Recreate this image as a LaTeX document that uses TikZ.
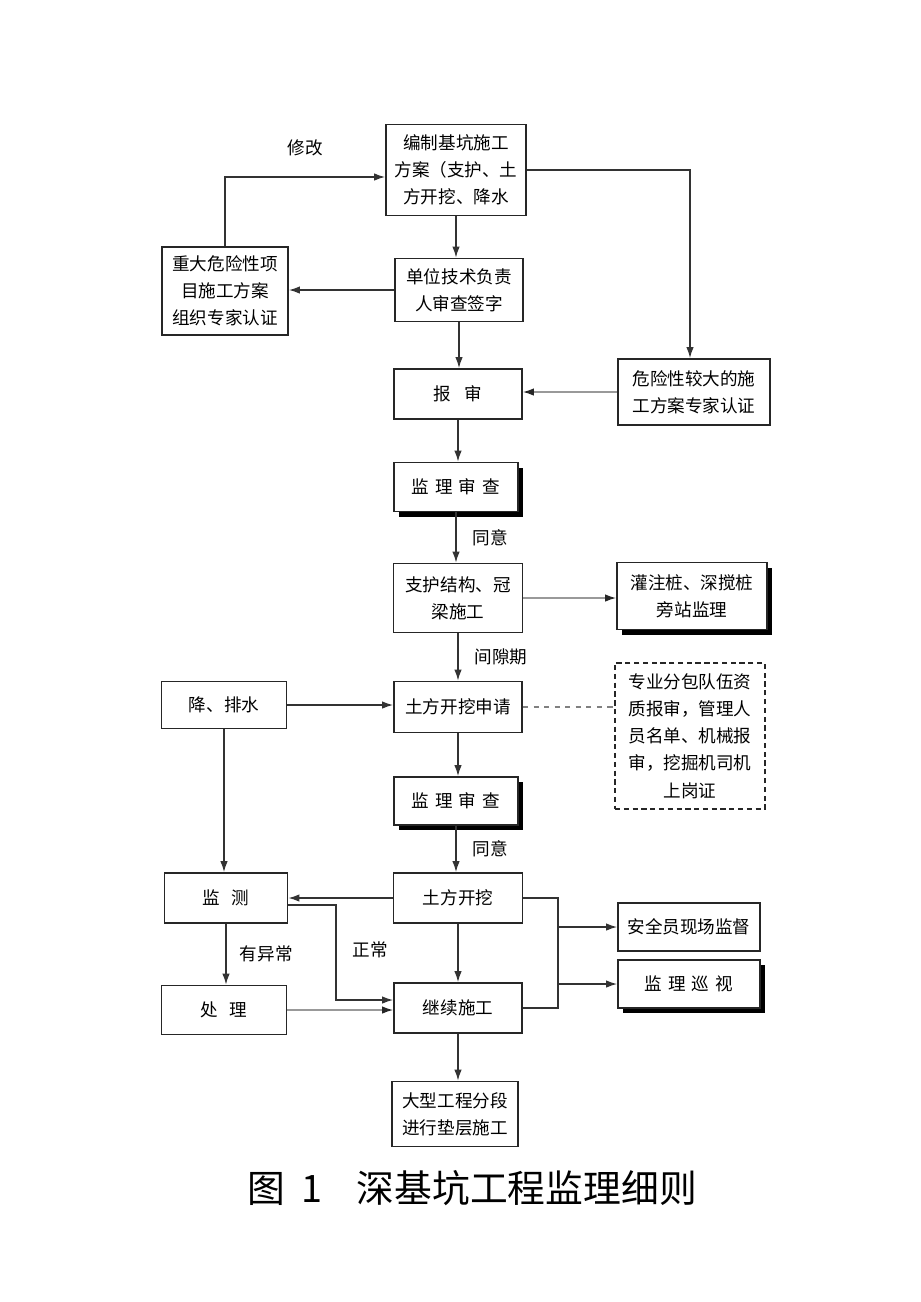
\documentclass[tikz,border=0pt]{standalone}
\usepackage{fontspec}
\setmainfont{Noto Sans CJK SC}
\usepackage{tikz}
\usetikzlibrary{arrows.meta,shadows}

\begin{document}
\begin{tikzpicture}[x=0.02cm,y=-0.02cm,
	box/.style={draw=black!85,line width=1.1pt,align=center,inner sep=1pt,
		font=\fontsize{10pt}{15.5pt}\selectfont},
	shadowbox/.style={box,fill=white,drop shadow={shadow xshift=0.1cm,shadow yshift=-0.1cm,fill=black,opacity=1}},
	dashbox/.style={box,dashed,dash pattern=on 3pt off 2pt,line width=0.9pt},
	flow/.style={draw=black!80,line width=0.7pt,-{Latex[length=2.2mm,width=1.5mm]}},
	faint/.style={draw=black!40,line width=0.7pt,-{Latex[length=2.2mm,width=1.5mm,color=black!85]}},
	lbl/.style={font=\fontsize{10pt}{12pt}\selectfont}]
	\fill[white] (0,0) rectangle (920,1302);
	\useasboundingbox (0,0) rectangle (920,1302);

	\node[box,minimum width=2.8cm,minimum height=1.82cm] (plan) at (456,170) {编制基坑施工\\方案（支护、土\\方开挖、降水};
	\node[box,minimum width=2.52cm,minimum height=1.76cm] (expert) at (225,291) {重大危险性项\\目施工方案\\组织专家认证};
	\node[box,minimum width=2.56cm,minimum height=1.26cm] (sign) at (459,290) {单位技术负责\\人审查签字};
	\node[box,minimum width=2.56cm,minimum height=1.0cm] (submit) at (458,394) {报\hspace{2.6mm}审};
	\node[box,minimum width=3.04cm,minimum height=1.32cm] (danger) at (694,392) {危险性较大的施\\工方案专家认证};
	\node[shadowbox,minimum width=2.48cm,minimum height=0.98cm] (review) at (456,487) {监\hspace{1.2mm}理\hspace{1.2mm}审\hspace{1.2mm}查};
	\node[box,minimum width=2.58cm,minimum height=1.38cm] (support) at (458,598) {支护结构、冠\\梁施工};
	\node[shadowbox,minimum width=3.0cm,minimum height=1.34cm] (pile) at (692,596) {灌注桩、深搅桩\\旁站监理};
	\node[box,minimum width=2.56cm,minimum height=1.02cm] (apply) at (458,707) {土方开挖申请};
	\node[dashbox,minimum width=3.0cm,minimum height=2.92cm] (qualify) at (690,736) {专业分包队伍资\\质报审，管理人\\员名单、机械报\\审，挖掘机司机\\上岗证};
	\node[shadowbox,minimum width=2.48cm,minimum height=0.96cm] (reviewb) at (456,801) {监\hspace{1.2mm}理\hspace{1.2mm}审\hspace{1.2mm}查};
	\node[box,minimum width=2.5cm,minimum height=0.94cm] (drain) at (224,705) {降、排水};
	\node[box,minimum width=2.46cm,minimum height=1.0cm] (monitor) at (226,898) {监\hspace{2.2mm}测};
	\node[box,minimum width=2.5cm,minimum height=0.98cm] (handle) at (224,1010) {处\hspace{2.2mm}理};
	\node[box,minimum width=2.58cm,minimum height=1.0cm] (dig) at (458,898) {土方开挖};
	\node[box,minimum width=2.56cm,minimum height=1.0cm] (goon) at (458,1008) {继续施工};
	\node[box,minimum width=2.52cm,minimum height=1.3cm] (cushion) at (455,1114) {大型工程分段\\进行垫层施工};
	\node[box,minimum width=2.84cm,minimum height=0.96cm] (safety) at (689,927) {安全员现场监督};
	\node[shadowbox,minimum width=2.84cm,minimum height=0.96cm] (patrol) at (689,984) {监\hspace{1.2mm}理\hspace{1.2mm}巡\hspace{1.2mm}视};

	\draw[flow] (expert.north) |- ([yshift=-0.14cm]plan.west) node[lbl,pos=0.75,above=0.3cm] {修改};
	\draw[flow] (plan.south) -- (plan.south |- sign.north);
	\draw[flow] (sign.west) -- (sign.west -| expert.east);
	\draw[flow] (plan.east) -| ([xshift=-0.08cm]danger.north);
	\draw[flow] (sign.south) -- (sign.south |- submit.north);
	\draw[faint] (danger.west) -- (danger.west -| submit.east);
	\draw[flow] (submit.south) -- (submit.south |- review.north);
	\draw[flow] (review.south) -- (review.south |- support.north) node[lbl,midway,right=0.2cm] {同意};
	\draw[faint] (support.east) -- (support.east -| pile.west);
	\draw[flow] (support.south) -- (support.south |- apply.north) node[lbl,pos=0.5,right=0.2cm] {间隙期};
	\draw[flow] (drain.east) -- (drain.east -| apply.west);
	\draw[draw=black!50,line width=0.6pt,dashed] (apply.east) -- (apply.east -| qualify.west);
	\draw[flow] (apply.south) -- (apply.south |- reviewb.north);
	\draw[flow] (reviewb.south) -- (reviewb.south |- dig.north) node[lbl,midway,right=0.2cm] {同意};
	\draw[flow] (drain.south) -- (drain.south |- monitor.north);
	\draw[flow] (dig.west) -- (dig.west -| monitor.east);
	\draw[flow] ([yshift=-0.14cm]monitor.east) -| ([xshift=-1.14cm,yshift=0.16cm]goon.west) -- ([yshift=0.16cm]goon.west);
	\node[lbl] (normal) at (370,950) {正常};
	\draw[flow] (monitor.south) -- (monitor.south |- handle.north) node[lbl,midway,right=0.15cm] {有异常};
	\draw[faint] (handle.east) -- (handle.east -| goon.west);
	\draw[flow] (dig.south) -- (dig.south |- goon.north);
	\coordinate (bus) at ([xshift=0.7cm]goon.east);
	\draw[draw=black!80,line width=0.7pt] (dig.east) -| (bus) -- (goon.east);
	\draw[flow] (safety.west -| bus) -- (safety.west);
	\draw[flow] (patrol.west -| bus) -- (patrol.west);
	\draw[flow] (goon.south) -- (goon.south |- cushion.north);

	\node[font=\fontsize{21.5pt}{24pt}\selectfont] (caption) at (472,1188) {图\hspace{0.45em}1\hspace{0.9em}深基坑工程监理细则};
\end{tikzpicture}
\end{document}
